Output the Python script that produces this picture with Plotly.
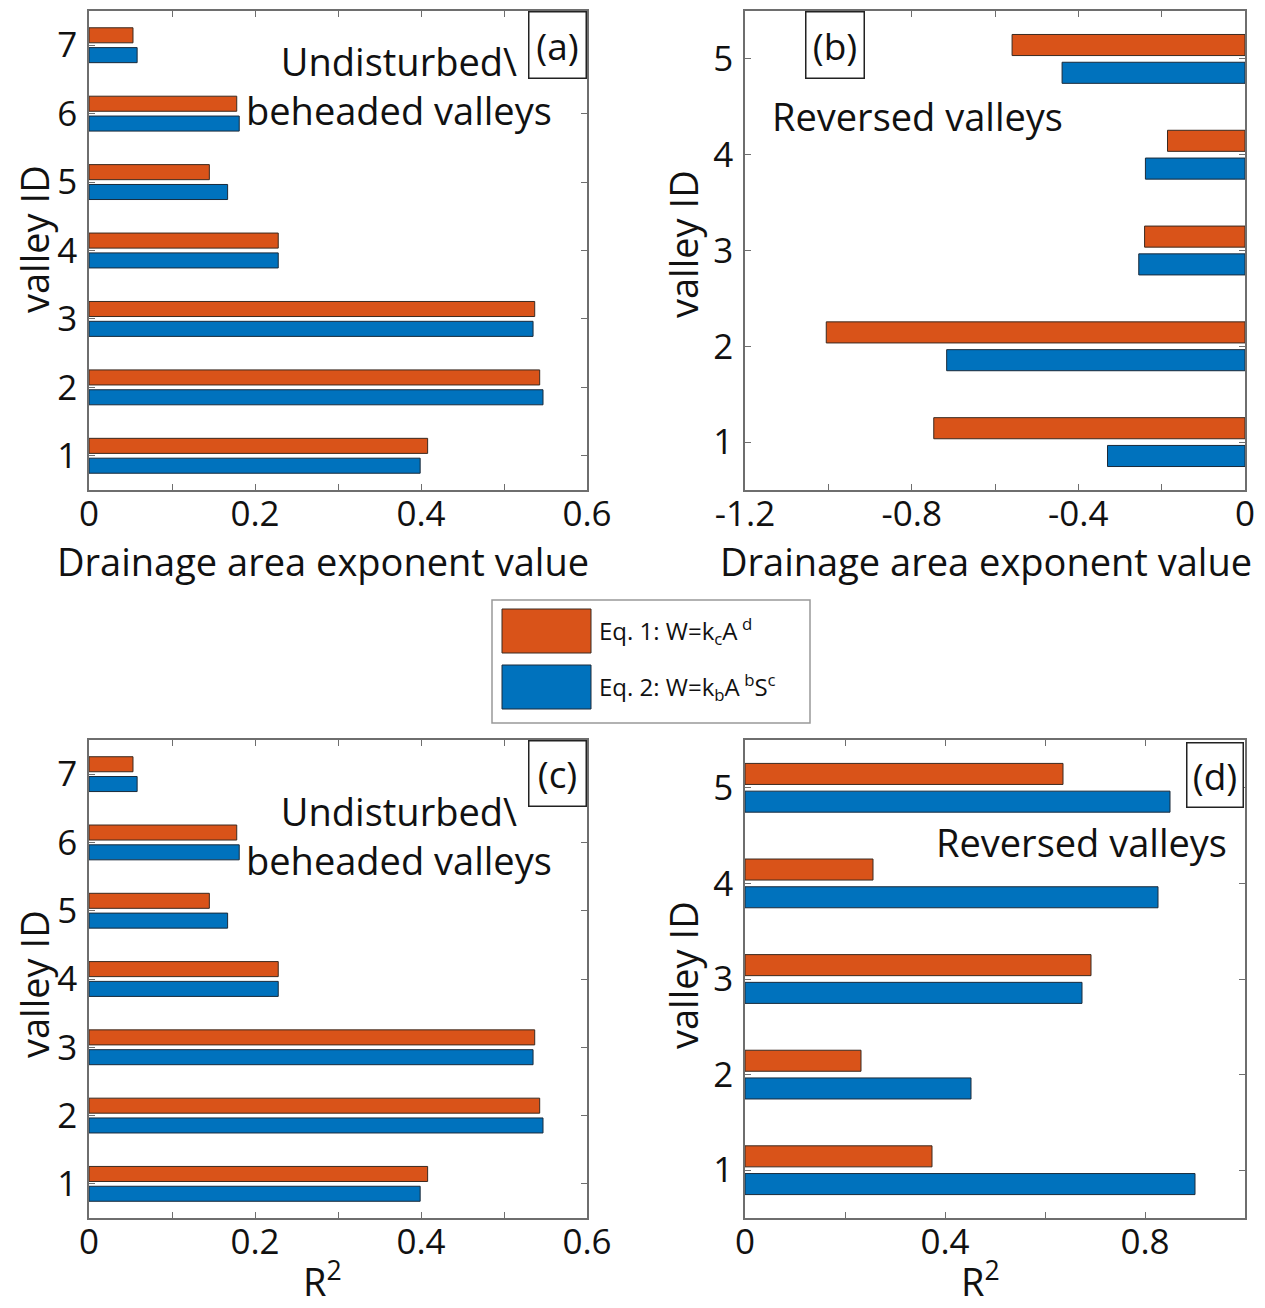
import plotly.graph_objects as go

# ---------------- data ----------------
ids_a = [1, 2, 3, 4, 5, 6, 7]
a_eq1 = [0.408, 0.543, 0.537, 0.228, 0.145, 0.178, 0.053]
a_eq2 = [0.399, 0.547, 0.535, 0.228, 0.167, 0.181, 0.058]

ids_b = [1, 2, 3, 4, 5]
b_eq1 = [-0.747, -1.005, -0.241, -0.186, -0.559]
b_eq2 = [-0.330, -0.716, -0.255, -0.239, -0.439]

ids_c = [1, 2, 3, 4, 5, 6, 7]
c_eq1 = [0.408, 0.543, 0.537, 0.228, 0.145, 0.178, 0.053]
c_eq2 = [0.399, 0.547, 0.535, 0.228, 0.167, 0.181, 0.058]

ids_d = [1, 2, 3, 4, 5]
d_eq1 = [0.374, 0.232, 0.692, 0.256, 0.636]
d_eq2 = [0.900, 0.452, 0.674, 0.826, 0.850]

xa_ticks = [0, 0.2, 0.4, 0.6]
xb_ticks = [-1.2, -0.8, -0.4, 0]
xd_ticks = [0, 0.4, 0.8]
xa_ticktext = ["0", "0.2", "0.4", "0.6"]
xb_ticktext = ["-1.2", "-0.8", "-0.4", "0"]
xd_ticktext = ["0", "0.4", "0.8"]

name_eq1 = "Eq. 1: W=k<sub>c</sub>A<sup> d</sup>"
name_eq2 = "Eq. 2: W=k<sub>b</sub>A<sup> b</sup>S<sup>c</sup>"

ORANGE = "#D95319"
BLUE = "#0072BD"
FONT = "Open Sans"
FS = 38      # titles / in-panel text
TFS = 35     # tick labels
TXT = "#111"
AX = "#6e6e6e"

W, H = 1265, 1308
OFF = 8  # page body margin offset
def PX(x):
    return (x - OFF) / W
def PY(y):
    return 1 - (y - OFF) / H

fig = go.Figure()

panels = [
    ("x", "y", ids_a, a_eq1, a_eq2),
    ("x2", "y2", ids_b, b_eq1, b_eq2),
    ("x3", "y3", ids_c, c_eq1, c_eq2),
    ("x4", "y4", ids_d, d_eq1, d_eq2),
]
for xa, ya, ids, e1, e2 in panels:
    fig.add_trace(go.Bar(x=e1, y=ids, orientation="h", xaxis=xa, yaxis=ya,
                         width=0.22, offset=0.035, name=name_eq1,
                         marker=dict(color=ORANGE, line=dict(color="#3a2a20", width=1)),
                         showlegend=False))
    fig.add_trace(go.Bar(x=e2, y=ids, orientation="h", xaxis=xa, yaxis=ya,
                         width=0.22, offset=-0.255, name=name_eq2,
                         marker=dict(color=BLUE, line=dict(color="#1a2a3a", width=1)),
                         showlegend=False))

axis_common = dict(showline=True, linecolor=AX, linewidth=1.5, mirror="ticks",
                   ticks="inside", ticklen=6, tickcolor=AX, tickwidth=1,
                   showgrid=False, zeroline=False, automargin=False,
                   tickfont=dict(family=FONT, size=TFS, color=TXT))

minor = dict(ticks="inside", ticklen=6, tickcolor=AX, tickwidth=1, showgrid=False)

def xaxis(domain, rng, tv, tt, minor_vals, anchor):
    d = dict(axis_common)
    d.update(domain=domain, range=rng, anchor=anchor,
             tickmode="array", tickvals=tv, ticktext=tt,
             ticklabelstandoff=-8, minor=dict(minor, tickvals=minor_vals))
    return d

def yaxis(domain, rng, ids, anchor):
    d = dict(axis_common)
    d.update(domain=domain, range=rng, anchor=anchor,
             tickmode="array", tickvals=ids, ticktext=[str(i) for i in ids],
             ticklabelstandoff=3)
    return d

dom_x_left = [PX(89), PX(587)]
dom_x_right = [PX(745), PX(1245)]
dom_y_top = [PY(490), PY(11)]
dom_y_bot = [PY(1218), PY(740)]

fig.update_layout(
    width=W, height=H,
    margin=dict(l=0, r=0, t=0, b=0),
    paper_bgcolor="white", plot_bgcolor="white",
    barmode="overlay",
    showlegend=False,
    font=dict(family=FONT, size=FS, color=TXT),
    xaxis=xaxis(dom_x_left, [0, 0.6], xa_ticks, xa_ticktext, [0.1, 0.3, 0.5], "y"),
    yaxis=yaxis(dom_y_top, [0.5, 7.5], ids_a, "x"),
    xaxis2=xaxis(dom_x_right, [-1.2, 0], xb_ticks, xb_ticktext, [-1.0, -0.6, -0.2], "y2"),
    yaxis2=yaxis(dom_y_top, [0.5, 5.5], ids_b, "x2"),
    xaxis3=xaxis(dom_x_left, [0, 0.6], xa_ticks, xa_ticktext, [0.1, 0.3, 0.5], "y3"),
    yaxis3=yaxis(dom_y_bot, [0.5, 7.5], ids_c, "x3"),
    xaxis4=xaxis(dom_x_right, [0, 1], xd_ticks, xd_ticktext, [0.2, 0.6, 1.0], "y4"),
    yaxis4=yaxis(dom_y_bot, [0.5, 5.5], ids_d, "x4"),
)

ann = []
def text(x, y, s, size=FS, xanchor="center", angle=0):
    ann.append(dict(x=PX(x), y=PY(y), xref="paper", yref="paper", text=s, showarrow=False,
                    xanchor=xanchor, yanchor="middle", align="center", textangle=angle,
                    font=dict(family=FONT, size=size, color=TXT)))

def boxed(x, y, s, w, h):
    ann.append(dict(x=PX(x), y=PY(y), xref="paper", yref="paper", text=s, showarrow=False,
                    xanchor="center", yanchor="middle", width=w, height=h,
                    bordercolor="#222", borderwidth=1.5, borderpad=0, bgcolor="white",
                    font=dict(family=FONT, size=37, color=TXT)))

# axis titles
text(323, 561, "Drainage area exponent value")
text(986, 561, "Drainage area exponent value")
text(322, 1279, "R<sup>2</sup>")
text(980, 1279, "R<sup>2</sup>")
text(34, 239, "valley ID", angle=-90)
text(683, 244, "valley ID", angle=-90)
text(34, 984, "valley ID", angle=-90)
text(683, 975, "valley ID", angle=-90)

# in-panel texts
text(399, 85, "Undisturbed\\<br>beheaded valleys")
text(918, 116, "Reversed valleys")
text(399, 835, "Undisturbed\\<br>beheaded valleys")
text(1081, 842, "Reversed valleys")
boxed(557.5, 45, "(a)", 56, 65)
boxed(835, 45, "(b)", 57, 65)
boxed(557.5, 773.5, "(c)", 56, 64)
boxed(1215, 775, "(d)", 55, 63)

# legend (manual, large swatches)
shapes = [
    dict(type="rect", xref="paper", yref="paper", x0=PX(492), x1=PX(810), y0=PY(723), y1=PY(600),
         line=dict(color="#999", width=1.5), fillcolor="white", layer="below"),
    dict(type="rect", xref="paper", yref="paper", x0=PX(502), x1=PX(591), y0=PY(653), y1=PY(609),
         line=dict(color="#3a2a20", width=1), fillcolor=ORANGE),
    dict(type="rect", xref="paper", yref="paper", x0=PX(502), x1=PX(591), y0=PY(709), y1=PY(665),
         line=dict(color="#1a2a3a", width=1), fillcolor=BLUE),
]
text(597, 631, name_eq1, size=24, xanchor="left")
text(597, 687, name_eq2, size=24, xanchor="left")

fig.update_layout(annotations=ann, shapes=shapes)
fig.write_html("out.html")
